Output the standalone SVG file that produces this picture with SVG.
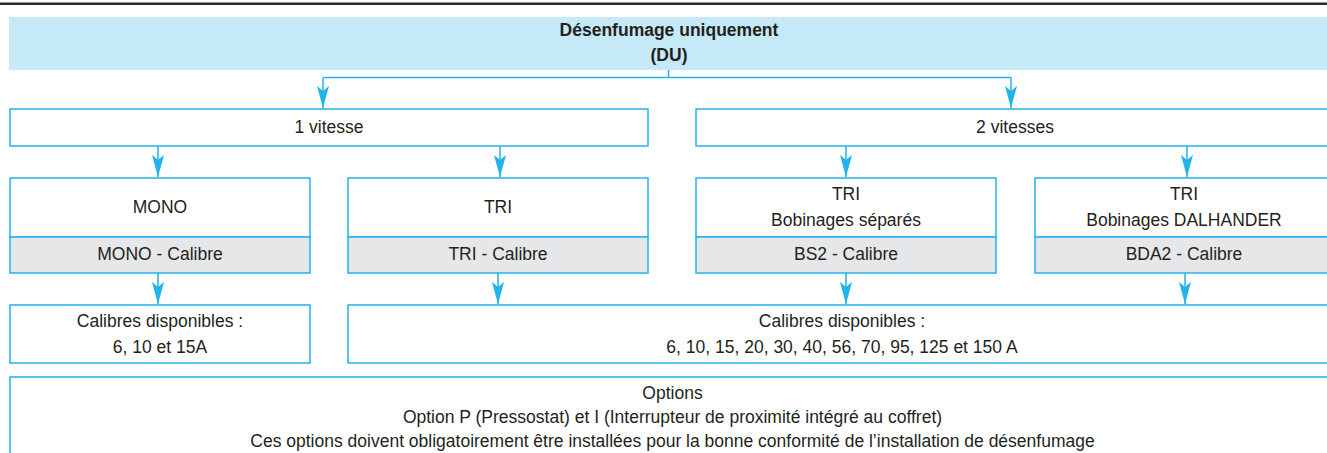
<svg xmlns="http://www.w3.org/2000/svg" width="1327" height="453" viewBox="0 0 1327 453">
  <defs>
    <style>
      .box { fill: #ffffff; stroke: #22b3ec; stroke-width: 1.5; }
      .gray { fill: #e6e7e8; stroke: #22b3ec; stroke-width: 1.5; }
      .hdr { fill: #c6e9f8; stroke: none; }
      .t { font-family: "Liberation Sans", Arial, sans-serif; font-size: 17.5px; fill: #231f20; text-anchor: middle; }
      .tb { font-family: "Liberation Sans", Arial, sans-serif; font-size: 17.5px; font-weight: bold; fill: #231f20; text-anchor: middle; }
      .c { fill: none; stroke: #22b3ec; stroke-width: 1.5; }
    </style>
    <marker id="arr" viewBox="0 0 22 12" markerWidth="22" markerHeight="12" refX="22" refY="6" orient="auto" markerUnits="userSpaceOnUse">
      <path d="M0,0 L22,6 L0,12 L5,6 Z" fill="#22b3ec"/>
    </marker>
  </defs>

  <rect x="0" y="2.5" width="1327" height="2.5" fill="#2b2b2b"/>

  <g id="node-du">
    <rect class="hdr" x="9" y="17" width="1330" height="53"/>
    <text class="tb" x="669" y="36">Désenfumage uniquement</text>
    <text class="tb" x="669" y="61">(DU)</text>
  </g>

  <g id="node-1vitesse">
    <rect class="box" x="10" y="109" width="638" height="37"/>
    <text class="t" x="329" y="133">1 vitesse</text>
  </g>

  <g id="node-2vitesses">
    <rect class="box" x="696" y="109" width="640" height="37"/>
    <text class="t" x="1015" y="133">2 vitesses</text>
  </g>

  <g id="node-mono">
    <rect class="box" x="10" y="178" width="300" height="59"/>
    <rect class="gray" x="10" y="237" width="300" height="36"/>
    <text class="t" x="160" y="213">MONO</text>
    <text class="t" x="160" y="260">MONO - Calibre</text>
  </g>

  <g id="node-tri">
    <rect class="box" x="348" y="178" width="300" height="59"/>
    <rect class="gray" x="348" y="237" width="300" height="36"/>
    <text class="t" x="498" y="213">TRI</text>
    <text class="t" x="498" y="260">TRI - Calibre</text>
  </g>

  <g id="node-bs2">
    <rect class="box" x="696" y="178" width="300" height="59"/>
    <rect class="gray" x="696" y="237" width="300" height="36"/>
    <text class="t" x="846" y="200">TRI</text>
    <text class="t" x="846" y="226">Bobinages séparés</text>
    <text class="t" x="846" y="260">BS2 - Calibre</text>
  </g>

  <g id="node-bda2">
    <rect class="box" x="1035" y="178" width="300" height="59"/>
    <rect class="gray" x="1035" y="237" width="300" height="36"/>
    <text class="t" x="1184" y="200">TRI</text>
    <text class="t" x="1184" y="226">Bobinages DALHANDER</text>
    <text class="t" x="1184" y="260">BDA2 - Calibre</text>
  </g>

  <g id="node-calibres-mono">
    <rect class="box" x="10" y="305" width="300" height="58"/>
    <text class="t" x="160" y="326.5">Calibres disponibles :</text>
    <text class="t" x="160" y="352.5">6, 10 et 15A</text>
  </g>

  <g id="node-calibres-tri">
    <rect class="box" x="348" y="305" width="988" height="58"/>
    <text class="t" x="842" y="326.5">Calibres disponibles :</text>
    <text class="t" x="842" y="352.5">6, 10, 15, 20, 30, 40, 56, 70, 95, 125 et 150 A</text>
  </g>

  <g id="node-options">
    <rect class="box" x="10" y="377" width="1325" height="90"/>
    <text class="t" x="672.5" y="399">Options</text>
    <text class="t" x="672.5" y="423">Option P (Pressostat) et I (Interrupteur de proximité intégré au coffret)</text>
    <text class="t" x="672.5" y="447">Ces options doivent obligatoirement être installées pour la bonne conformité de l’installation de désenfumage</text>
  </g>

  <g id="connectors">
    <path class="c" d="M668.5,70 V77.5 M323,77.5 H1011"/>
    <path class="c" marker-end="url(#arr)" d="M323,77.5 V108"/>
    <path class="c" marker-end="url(#arr)" d="M1011,77.5 V108"/>
    <path class="c" marker-end="url(#arr)" d="M158,146 V177"/>
    <path class="c" marker-end="url(#arr)" d="M500,146 V177"/>
    <path class="c" marker-end="url(#arr)" d="M846,146 V177"/>
    <path class="c" marker-end="url(#arr)" d="M1187,146 V177"/>
    <path class="c" marker-end="url(#arr)" d="M158,273 V304"/>
    <path class="c" marker-end="url(#arr)" d="M498,273 V304"/>
    <path class="c" marker-end="url(#arr)" d="M846,273 V304"/>
    <path class="c" marker-end="url(#arr)" d="M1185,273 V304"/>
  </g>
</svg>
